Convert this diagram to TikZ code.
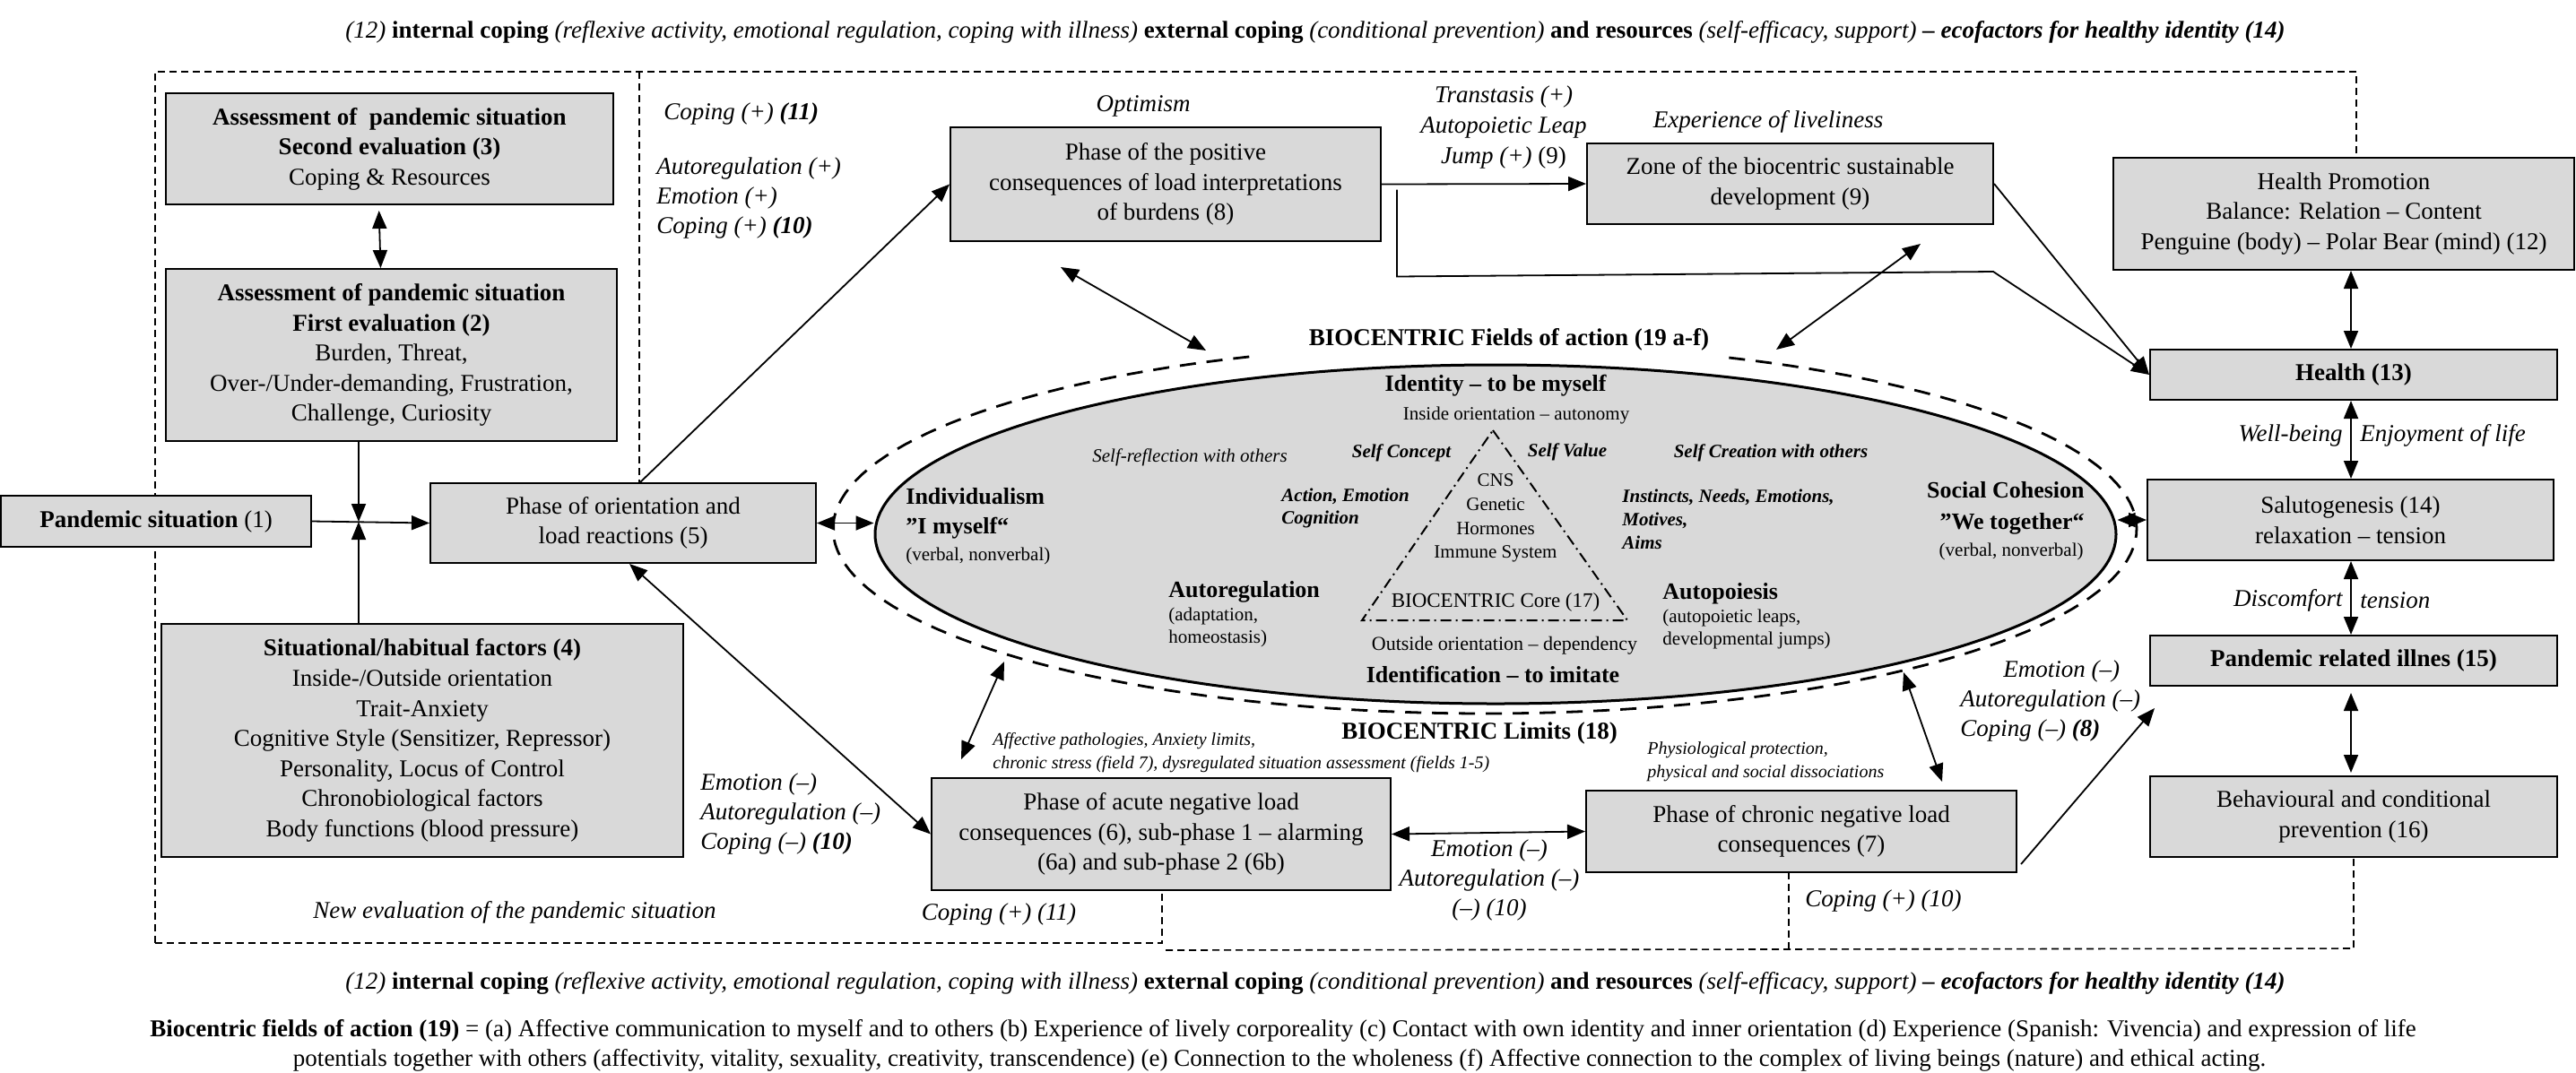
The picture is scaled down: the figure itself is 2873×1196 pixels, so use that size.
\documentclass[tikz,border=0pt]{standalone}
\usepackage{fontspec}
\setmainfont{Liberation Serif}
\usetikzlibrary{arrows.meta,shapes.geometric}
\definecolor{boxgray}{RGB}{217,217,217}
\newcommand\fsz[2]{\fontsize{#1pt}{#2pt}\selectfont}
\tikzset{
 pbox/.style={draw, fill=boxgray, line width=1pt, align=center, inner sep=0pt, font=\fsz{13.5}{16.8}},
 txt/.style={inner sep=0pt, font=\fsz{13.5}{16.5}},
 itx/.style={inner sep=0pt, font=\fsz{13.5}{16.5}\itshape},
 sm/.style={inner sep=0pt, font=\fsz{10.5}{12.8}},
 smit/.style={inner sep=0pt, font=\fsz{10}{13}\itshape},
 smbi/.style={inner sep=0pt, font=\fsz{10.5}{12.8}\bfseries\itshape},
 hd/.style={inner sep=0pt, font=\fsz{13}{16.5}\bfseries},
 arr/.style={line width=0.9pt, -{Triangle[length=10pt,width=8pt]}},
 dbl/.style={line width=0.9pt, {Triangle[length=10pt,width=8pt]}-{Triangle[length=10pt,width=8pt]}},
 dframe/.style={line width=0.8pt, dash pattern=on 4pt off 2.5pt},
 elldash/.style={line width=1.4pt, dash pattern=on 9pt off 6pt},
}
\begin{document}
\begin{tikzpicture}[x=0.5pt,y=-0.5pt]
\fill[white] (0,0) rectangle (2873,1196);
\useasboundingbox (0,0) rectangle (2873,1196);

% dashed frame
\draw[dframe] (173,1052) -- (173,80) -- (2628,80) -- (2628,176);
\draw[dframe] (713,80) -- (713,539);
\draw[dframe] (173,1052) -- (1296,1052) -- (1296,993);
\draw[dframe] (1300,1060) -- (2625,1058) -- (2625,956);
\draw[dframe] (1995,973) -- (1995,1060);

% ellipse
\draw[elldash] plot[domain=-68:249, samples=160] ({1656+727*cos(\x)},{590+206*sin(\x)});
\node[draw, ellipse, fill=boxgray, line width=1.5pt, minimum width=692pt, minimum height=189pt, inner sep=0pt] (core) at (1668,596) {};
\draw[line width=1pt, dash pattern=on 6pt off 2.5pt on 1pt off 2.5pt] (1665,480) -- (1815,692) -- (1519,692) -- cycle;

% ellipse texts
\node[hd] (eid) at (1668,430) {Identity – to be myself};
\node[sm] (eins) at (1691,463) {Inside orientation – autonomy};
\node[inner sep=0pt, font=\fsz{10.5}{12.8}\itshape] (eref) at (1327,510) {Self-reflection with others};
\node[smbi] (ecpt) at (1563,505) {Self Concept};
\node[smbi] (eval) at (1748,504) {Self Value};
\node[smbi] (ecre) at (1975,505) {Self Creation with others};
\node[sm, align=center, font=\fsz{10.5}{13.3}] (ecns) at (1668,578) {CNS\\ Genetic\\ Hormones\\ Immune System};
\node[inner sep=0pt, font=\fsz{11.5}{14}] (ecore) at (1668,672) {BIOCENTRIC Core (17)};
\node[inner sep=0pt, font=\fsz{11}{14}] (eout) at (1678,720) {Outside orientation – dependency};
\node[hd] (eidf) at (1665,752) {Identification – to imitate};
\node[hd, anchor=west, align=left] (eind) at (1010,573) {Individualism\\ ”I myself“};
\node[sm, anchor=west] (eindv) at (1010,620) {(verbal, nonverbal)};
\node[smbi, anchor=west, align=left, font=\fsz{10.5}{12.5}\bfseries\itshape] (eact) at (1429,567) {Action, Emotion\\ Cognition};
\node[hd, anchor=west] (eaut) at (1303,660) {Autoregulation};
\node[sm, anchor=west, align=left, font=\fsz{10.5}{12.5}] (eautd) at (1303,700) {(adaptation,\\ homeostasis)};
\node[smbi, anchor=west, align=left, font=\fsz{10.5}{13}\bfseries\itshape] (einst) at (1809,579) {Instincts, Needs, Emotions,\\ Motives,\\ Aims};
\node[hd, anchor=east, align=right, font=\fsz{13}{17.5}\bfseries] (esoc) at (2325,567) {Social Cohesion\\ ”We together“};
\node[sm, anchor=east] (esocv) at (2324,615) {(verbal, nonverbal)};
\node[hd, anchor=west] (eapo) at (1854,662) {Autopoiesis};
\node[sm, anchor=west, align=left, font=\fsz{10.5}{12.5}] (eapod) at (1854,702) {(autopoietic leaps,\\ developmental jumps)};

% boxes
\node[pbox, minimum width=173pt, minimum height=28.5pt] (b1) at (174,581.5) {\textbf{Pandemic situation} (1)};
\node[pbox, minimum width=251.5pt, minimum height=96pt] (b2) at (436.5,396) {\textbf{Assessment of pandemic situation}\\ \textbf{First evaluation (2)}\\ Burden, Threat,\\ Over-/Under-demanding, Frustration,\\ Challenge, Curiosity};
\node[pbox, minimum width=249.5pt, minimum height=62pt] (b3) at (434.5,166) {\textbf{Assessment of\ \ pandemic situation}\\ \textbf{Second evaluation (3)}\\ Coping \& Resources};
\node[pbox, minimum width=291pt, minimum height=130pt] (b4) at (471,826) {\textbf{Situational/habitual factors (4)}\\ Inside-/Outside orientation\\ Trait-Anxiety\\ Cognitive Style (Sensitizer, Repressor)\\ Personality, Locus of Control\\ Chronobiological factors\\ Body functions (blood pressure)};
\node[pbox, minimum width=215pt, minimum height=44.5pt] (b5) at (695,583.5) {Phase of orientation and\\ load reactions (5)};
\node[pbox, minimum width=256pt, minimum height=62.5pt] (b6) at (1295,930.5) {Phase of acute negative load\\ consequences (6), sub-phase 1 – alarming\\ (6a) and sub-phase 2 (6b)};
\node[pbox, minimum width=240pt, minimum height=45.5pt] (b7) at (2009,927.5) {Phase of chronic negative load\\ consequences (7)};
\node[pbox, minimum width=240pt, minimum height=63.5pt] (b8) at (1300,205.5) {Phase of the positive\\ consequences of load interpretations\\ of burdens (8)};
\node[pbox, minimum width=226.5pt, minimum height=45pt] (b9) at (1996.5,205) {Zone of the biocentric sustainable\\ development (9)};
\node[pbox, minimum width=257pt, minimum height=62.5pt] (b12) at (2614,238.5) {Health Promotion\\ Balance: Relation – Content\\ Penguine (body) – Polar Bear (mind) (12)};
\node[pbox, minimum width=227pt, minimum height=28pt] (b13) at (2625,418) {\textbf{Health (13)}};
\node[pbox, minimum width=226.5pt, minimum height=45pt] (b14) at (2621.5,580) {Salutogenesis (14)\\ relaxation – tension};
\node[pbox, minimum width=227pt, minimum height=28pt] (b15) at (2625,737) {\textbf{Pandemic related illnes (15)}};
\node[pbox, minimum width=227pt, minimum height=45pt] (b16) at (2625,911) {Behavioural and conditional\\ prevention (16)};

% labels
\node[txt] (captop) at (1467,36) {\textit{(12)} \textbf{internal coping} \textit{(reflexive activity, emotional regulation, coping with illness)} \textbf{external coping} \textit{(conditional prevention)} \textbf{and resources} \textit{(self-efficacy, support)} \textbf{\textit{– ecofactors for healthy identity (14)}}};
\node[txt] (capbot) at (1467,1097) {\textit{(12)} \textbf{internal coping} \textit{(reflexive activity, emotional regulation, coping with illness)} \textbf{external coping} \textit{(conditional prevention)} \textbf{and resources} \textit{(self-efficacy, support)} \textbf{\textit{– ecofactors for healthy identity (14)}}};
\node[txt] (fn1) at (1431,1150) {\textbf{Biocentric fields of action (19)} = (a) Affective communication to myself and to others (b) Experience of lively corporeality (c) Contact with own identity and inner orientation (d) Experience (Spanish: Vivencia) and expression of life};
\node[txt] (fn2) at (1427,1183) {potentials together with others (affectivity, vitality, sexuality, creativity, transcendence) (e) Connection to the wholeness (f) Affective connection to the complex of living beings (nature) and ethical acting.};

\node[itx, anchor=west] (l11) at (740,127) {Coping (+) \textbf{(11)}};
\node[itx, anchor=west, align=left] (lpos) at (732,221) {Autoregulation (+)\\ Emotion (+)\\ Coping (+) \textbf{(10)}};
\node[itx] (lopt) at (1275,118) {Optimism};
\node[itx, align=center, font=\fsz{13.5}{17.2}\itshape] (ltrans) at (1677,142) {Transtasis (+)\\ Autopoietic Leap\\ Jump (+) \upshape(9)};
\node[itx] (lexp) at (1972,136) {Experience of liveliness};
\node[txt] (lfields) at (1683,379) {\textbf{BIOCENTRIC Fields of action (19 a-f)}};
\node[txt] (llimits) at (1650,818) {\textbf{BIOCENTRIC Limits (18)}};
\node[itx, anchor=west, align=left] (lneg) at (781,908) {Emotion (–)\\ Autoregulation (–)\\ Coping (–) \textbf{(10)}};
\node[itx] (lnew) at (574,1018) {New evaluation of the pandemic situation};
\node[smit, anchor=west, align=left] (laff) at (1107,840) {Affective pathologies, Anxiety limits,\\ chronic stress (field 7), dysregulated situation assessment (fields 1-5)};
\node[itx] (lc11) at (1114,1020) {Coping (+) (11)};
\node[itx, align=center] (lneg2) at (1661,982) {Emotion (–)\\ Autoregulation (–)\\ (–) (10)};
\node[smit, anchor=west, align=left] (lphys) at (1837,850) {Physiological protection,\\ physical and social dissociations};
\node[itx, anchor=west, align=left] (lneg3) at (2186,782) {\hspace*{24pt}Emotion (–)\\ Autoregulation (–)\\ Coping (–) \textbf{(8)}};
\node[itx, anchor=west] (lc10) at (2013,1005) {Coping (+) (10)};
\node[itx, anchor=east] (lwell) at (2613,486) {Well-being};
\node[itx, anchor=west] (lenj) at (2632,486) {Enjoyment of life};
\node[itx, anchor=east] (ldis) at (2613,670) {Discomfort};
\node[itx, anchor=west] (lten) at (2632,670) {tension};

% connector points
\coordinate (J) at (400,582);
\coordinate (rc) at (2622,0);
\coordinate (eA) at (1120,738);
\coordinate (eB) at (2123,750);
\coordinate (eC) at (1345,391);
\coordinate (eD) at (1981,390);
\coordinate (p15) at (2403,790);
\coordinate (k1) at (2223,303);

% connectors
\draw[dbl, shorten <=3pt] ([xshift=-6pt]b3.south) -- ([xshift=-6pt]b2.north);
\draw[arr] (J |- b2.south) -- (J);
\draw[arr] (J |- b4.north) -- (J);
\draw[arr] (b1.east) -- (b5.west);
\draw[arr] ([xshift=9.5pt]b5.north) -- (b8.west);
\draw[dbl] (b5.east) -- (b5.east -| core.west);
\draw[dbl] ([xshift=3.5pt]b5.south) -- (b6.west);
\draw[dbl] (eA) -- ([shift={(34,-20)}]b6.north west);
\draw[dbl] (b6.east) -- (b7.west);
\draw[dbl] (eB) -- ([shift={(157,-9)}]b7.north);
\draw[arr] ([shift={(4,-10)}]b7.south east) -- (p15);
\draw[arr] (b8.east) -- (b9.west);
\draw[arr] ([shift={(17,6)}]b8.east) -- ++(0,97) -- (k1) -- (b13.west);
\draw[arr] (b9.east) -- (b13.west);
\draw[dbl] ([shift={(-117,28)}]b8.south) -- (eC);
\draw[dbl] ([shift={(145.5,21)}]b9.south) -- (eD);
\draw[dbl] (b12.south -| rc) -- (b13.north -| rc);
\draw[dbl] (b13.south -| rc) -- (b14.north -| rc);
\draw[dbl] (b14.west -| core.east) -- (b14.west);
\draw[dbl] (b14.south -| rc) -- (b15.north -| rc);
\draw[dbl, shorten <=3.5pt, shorten >=1.5pt] (b15.south -| rc) -- (b16.north -| rc);
\end{tikzpicture}
\end{document}
